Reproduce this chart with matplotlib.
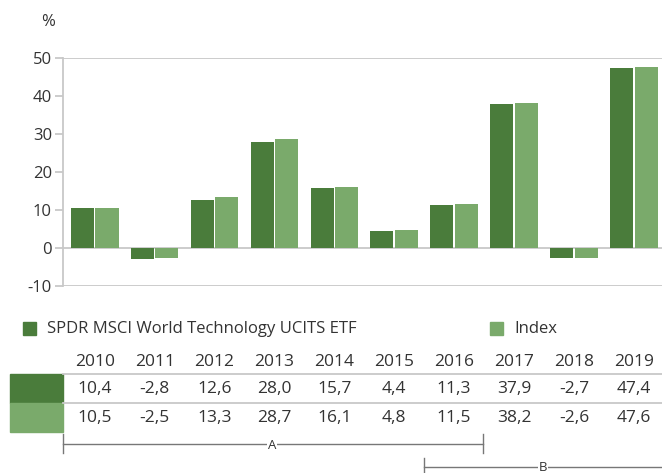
import numpy as np
import matplotlib.pyplot as plt
from matplotlib.transforms import blended_transform_factory
from matplotlib.patches import Rectangle
from matplotlib.lines import Line2D

plt.rcParams['font.family'] = ['Open Sans', 'DejaVu Sans']
plt.rcParams['axes.unicode_minus'] = False

years = ['2010', '2011', '2012', '2013', '2014', '2015', '2016', '2017', '2018', '2019']
etf = [10.4, -2.8, 12.6, 28.0, 15.7, 4.4, 11.3, 37.9, -2.7, 47.4]
index = [10.5, -2.5, 13.3, 28.7, 16.1, 4.8, 11.5, 38.2, -2.6, 47.6]
etf_label = 'SPDR MSCI World Technology UCITS ETF'
index_label = 'Index'

dark = '#4a7c3b'
light = '#7aaa6b'
grid = '#c8c8c8'
txt = '#333333'

W, H = 662, 473
fig = plt.figure(figsize=(W / 100, H / 100), dpi=100)


def fy(py):
    return 1 - py / H


def fx(px):
    return px / W


ax = fig.add_axes([fx(63), fy(286), fx(662 - 63), (286 - 58) / H])
x = np.arange(len(years)) + 0.03
bw = 0.385
ax.bar(x - 0.205, etf, bw, color=dark)
ax.bar(x + 0.205, index, bw, color=light)

ax.set_xlim(-0.5, len(years) - 0.5)
ax.set_ylim(-10, 50)
ax.set_yticks(range(-10, 51, 10))
ax.set_xticks([])
for v in (50, 0, -10):
    ax.axhline(v, color=grid, lw=1.3, zorder=0)
for s in ('top', 'right', 'bottom'):
    ax.spines[s].set_visible(False)
ax.spines['left'].set_color(grid)
ax.spines['left'].set_linewidth(1.3)
ax.tick_params(axis='y', colors=grid, labelcolor=txt, labelsize=12, length=6, width=1.3, pad=2)

fig.text(fx(48), fy(22), '%', ha='center', va='center', fontsize=12, color=txt)

# legend
fig.patches.append(Rectangle((fx(23), fy(335)), fx(13), 13 / H, color=dark, transform=fig.transFigure))
fig.text(fx(47), fy(329), etf_label, ha='left', va='center', fontsize=12, color=txt)
fig.patches.append(Rectangle((fx(490), fy(335)), fx(13), 13 / H, color=light, transform=fig.transFigure))
fig.text(fx(514), fy(329), index_label, ha='left', va='center', fontsize=12, color=txt)

# table
tr = blended_transform_factory(ax.transData, fig.transFigure)
fig.patches.append(Rectangle((fx(10), fy(403)), fx(53), 29 / H, color=dark, transform=fig.transFigure))
fig.patches.append(Rectangle((fx(10), fy(432)), fx(53), 29 / H, color=light, transform=fig.transFigure))
for py in (374, 403):
    fig.lines.append(Line2D([fx(63), 1], [fy(py), fy(py)], color=grid, lw=1.3, transform=fig.transFigure))
for i, yr in enumerate(years):
    fig.text(x[i], fy(362), yr, transform=tr, ha='center', va='center', fontsize=12.5, color=txt)
    fig.text(x[i], fy(389), f'{etf[i]:.1f}'.replace('.', ','), transform=tr,
             ha='center', va='center', fontsize=12.5, color=txt)
    fig.text(x[i], fy(418), f'{index[i]:.1f}'.replace('.', ','), transform=tr,
             ha='center', va='center', fontsize=12.5, color=txt)

# period brackets
br = '#777777'
fig.lines.append(Line2D([fx(63), fx(483)], [fy(444), fy(444)], color=br, lw=1, transform=fig.transFigure))
for px in (63, 483):
    fig.lines.append(Line2D([fx(px), fx(px)], [fy(434), fy(453)], color=br, lw=1, transform=fig.transFigure))
fig.text(fx(272), fy(445), 'A', ha='center', va='center', fontsize=9.5, color=txt,
         bbox=dict(facecolor='white', edgecolor='none', pad=0.5))
fig.lines.append(Line2D([fx(424), 1], [fy(467), fy(467)], color=br, lw=1, transform=fig.transFigure))
fig.lines.append(Line2D([fx(424), fx(424)], [fy(458), fy(473)], color=br, lw=1, transform=fig.transFigure))
fig.text(fx(543), fy(467), 'B', ha='center', va='center', fontsize=9.5, color=txt,
         bbox=dict(facecolor='white', edgecolor='none', pad=0.5))

fig.savefig('out.png', dpi=100)
